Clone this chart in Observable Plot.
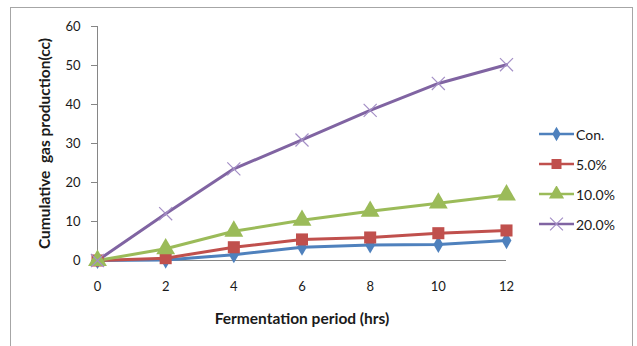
<!DOCTYPE html>
<html><head><meta charset="utf-8">
<script src="https://cdn.jsdelivr.net/npm/d3@7"></script>
<script src="https://cdn.jsdelivr.net/npm/@observablehq/plot@0.6"></script>
<style>
html,body{margin:0;padding:0;background:#fff;}
#wrap{position:relative;width:637px;height:346px;overflow:hidden;font-family:Lato,"Open Sans",sans-serif;}
#frame{position:absolute;left:10px;top:7px;width:623px;height:360px;border:1px solid #a6a6a6;box-sizing:border-box;}
#chart{position:absolute;left:0;top:0;}
#legend{position:absolute;left:539px;top:119px;font-size:14px;color:#1a1a1a;}
#legend .row{height:30px;display:flex;align-items:center;}
#legend svg{display:block;}
</style>
</head><body>
<div id="wrap"><div id="frame"></div><div id="chart"></div><div id="legend"></div></div>
<script>
const hours = [0, 2, 4, 6, 8, 10, 12];
const seriesNames = ["Con.", "5.0%", "10.0%", "20.0%"];
const con = [0, 0.1, 1.5, 3.4, 4.0, 4.1, 5.1];
const p5 = [0, 0.6, 3.4, 5.4, 5.9, 7.0, 7.7];
const p10 = [0, 3.0, 7.5, 10.3, 12.6, 14.7, 16.8];
const p20 = [0, 12.0, 23.5, 30.9, 38.5, 45.4, 50.2];
const yTicks = [0, 10, 20, 30, 40, 50, 60];
const xTicks = hours;
const xTitle = "Fermentation period (hrs)";
const yTitle = "Cumulative  gas production(cc)";
const colors = ["#4F81BD", "#C0504D", "#9BBB59", "#8064A2"];
const symbols = ["diamond", "square", "triangle", "times"];

const values = [con, p5, p10, p20];
const data = [];
seriesNames.forEach((s, i) => hours.forEach((h, j) => data.push({series: s, hour: h, value: values[i][j]})));

const markFor = (s, i) => {
  const d = data.filter(r => r.series === s);
  const sym = symbols[i];
  const common = {x: "hour", y: "value", symbol: () => sym};
  if (sym === "times") return Plot.dot(d, {...common, r: 6, stroke: "#a48fc6", strokeWidth: 1.2, fill: "none"});
  if (sym === "square") return Plot.dot(d, {...common, r: 6.8, fill: colors[i], stroke: "none"});
  if (sym === "triangle") return Plot.dot(d, {...common, r: 7, fill: colors[i], stroke: "none"});
  return Plot.dot(d, {...common, r: 5.2, fill: colors[i], stroke: "none"});
};

const chart = Plot.plot({
  width: 637, height: 346,
  marginLeft: 97, marginRight: 131, marginTop: 26, marginBottom: 86,
  style: {fontFamily: "Lato, 'Open Sans', sans-serif", fontSize: "13px", color: "#1a1a1a", background: "transparent"},
  x: {domain: [0, 12], ticks: xTicks, tickSize: 0, tickPadding: 21, label: xTitle, labelAnchor: "center", labelOffset: 63},
  y: {domain: [0, 60], ticks: yTicks, tickSize: 6, tickPadding: 11, label: yTitle, labelAnchor: "center", labelOffset: 59},
  marks: [
    Plot.ruleX([0], {y1: 0, y2: 60, stroke: "#868686"}),
    Plot.ruleY([0], {x1: 0, x2: 12, stroke: "#868686"}),
    Plot.line(data, {x: "hour", y: "value", z: "series", stroke: d => colors[seriesNames.indexOf(d.series)], strokeWidth: 3}),
    ...seriesNames.map(markFor)
  ]
});
const svgSel = d3.select(chart);
svgSel.selectAll("g[aria-label='y-axis tick'] path, g[aria-label='y-axis tick'] line").attr("stroke", "#868686");
svgSel.selectAll("g[aria-label='x-axis label'] text").text(xTitle).style("font-weight", "bold").style("font-size", "15.5px").style("white-space", "pre");
svgSel.selectAll("g[aria-label='y-axis label'] text").text(yTitle).style("font-weight", "bold").style("font-size", "15.5px").style("white-space", "pre");
document.getElementById("chart").appendChild(chart);

// legend
const leg = d3.select("#legend");
seriesNames.forEach((s, i) => {
  const row = leg.append("div").attr("class", "row");
  const svg = row.append("svg").attr("width", 37).attr("height", 16);
  svg.append("line").attr("x1", 0).attr("x2", 35).attr("y1", 8).attr("y2", 8).attr("stroke", colors[i]).attr("stroke-width", 2.5);
  const sym = d3.symbol().type({diamond: d3.symbolDiamond, square: d3.symbolSquare, triangle: d3.symbolTriangle, times: d3.symbolTimes}[symbols[i]]).size(symbols[i]==="times"?110:(symbols[i]==="diamond"?60:100));
  const p = svg.append("path").attr("d", sym()).attr("transform", "translate(17.5,8)");
  if (symbols[i] === "times") p.attr("fill", "none").attr("stroke", "#a48fc6").attr("stroke-width", 1.2);
  else p.attr("fill", colors[i]);
  row.append("span").text(s);
});
</script>
</body></html>
